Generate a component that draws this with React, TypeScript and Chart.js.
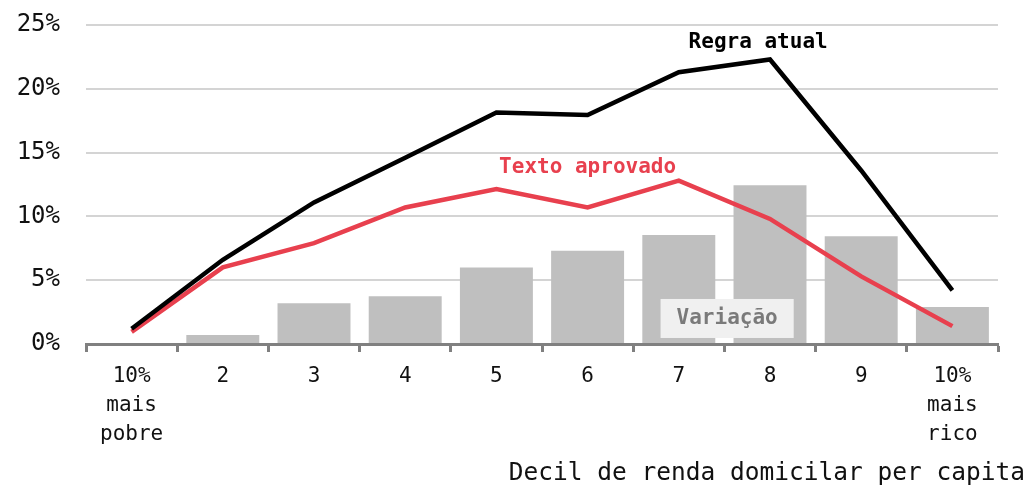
import React, { useEffect, useRef } from "react";
import { Chart, registerables } from "chart.js";

Chart.register(...registerables);

const categories: (string | string[])[] = [
  ["10%", "mais", "pobre"], "2", "3", "4", "5", "6", "7", "8", "9", ["10%", "mais", "rico"],
];
const regraAtual = [1.2, 6.6, 11.1, 14.6, 18.15, 17.95, 21.3, 22.3, 13.6, 4.2];
const textoAprovado = [0.95, 6.0, 7.9, 10.7, 12.15, 10.7, 12.8, 9.8, 5.3, 1.4];
const variacao = [0, 0.7, 3.2, 3.75, 6.0, 7.3, 8.55, 12.45, 8.45, 2.9];
const yTicks = [0, 5, 10, 15, 20, 25];

const axisTitle = "Decil de renda domicilar per capita";
// annotation labels: text, category index position, value
const labelRegra = { text: "Regra atual", x: 6.87, y: 23.6 };
const labelTexto = { text: "Texto aprovado", x: 5.0, y: 13.8 };
const labelVariacao = { text: "Variação", x: 6.53, y: 2.0 };

const FONT = "'DejaVu Sans Mono', 'Liberation Mono', monospace";
const RED = "#e8404e";

const annotationPlugin = {
  id: "annotations",
  afterDatasetsDraw(chart: any) {
    const { ctx, scales } = chart;
    const xs = scales.x;
    const ys = scales.y;
    const px = (v: number) => xs.left + (v + 0.5) * (xs.width / categories.length);
    ctx.save();
    ctx.textBaseline = "middle";
    ctx.textAlign = "center";
    ctx.font = `bold 21px ${FONT}`;
    ctx.fillStyle = "#000";
    ctx.fillText(labelRegra.text, px(labelRegra.x), ys.getPixelForValue(labelRegra.y));
    ctx.fillStyle = RED;
    ctx.fillText(labelTexto.text, px(labelTexto.x), ys.getPixelForValue(labelTexto.y));
    const vx = px(labelVariacao.x);
    const vy = ys.getPixelForValue(labelVariacao.y);
    const w = ctx.measureText(labelVariacao.text).width + 32;
    ctx.fillStyle = "#f0f0f0";
    ctx.fillRect(vx - w / 2, vy - 19.5, w, 39);
    ctx.fillStyle = "#7a7a7a";
    ctx.fillText(labelVariacao.text, vx, vy);
    ctx.restore();
  },
  afterDraw(chart: any) {
    const { ctx } = chart;
    ctx.save();
    ctx.font = `24.5px ${FONT}`;
    ctx.fillStyle = "#111";
    ctx.textAlign = "right";
    ctx.textBaseline = "middle";
    ctx.fillText(axisTitle, chart.width - 6, 474);
    ctx.restore();
  },
};

export default function App() {
  const ref = useRef<HTMLCanvasElement>(null);
  useEffect(() => {
    document.body.style.margin = "0";
    const chart = new Chart(ref.current!, {
      type: "bar",
      data: {
        labels: categories as any,
        datasets: [
          {
            type: "line",
            label: "Regra atual",
            data: regraAtual,
            borderColor: "#000",
            borderWidth: 4.5,
            pointRadius: 0,
            tension: 0,
            order: 1,
          } as any,
          {
            type: "line",
            label: "Texto aprovado",
            data: textoAprovado,
            borderColor: RED,
            borderWidth: 4.5,
            pointRadius: 0,
            tension: 0,
            order: 2,
          } as any,
          {
            type: "bar",
            label: "Variação",
            data: variacao,
            backgroundColor: "#bfbfbf",
            barPercentage: 0.8,
            categoryPercentage: 1,
            order: 3,
          },
        ],
      },
      options: {
        responsive: false,
        animation: false,
        layout: { padding: { left: 0, right: 33, top: 25, bottom: 0 } },
        plugins: { legend: { display: false }, tooltip: { enabled: false } },
        scales: {
          x: {
            offset: true,
            grid: {
              offset: true,
              drawOnChartArea: false,
              drawTicks: true,
              tickLength: 8,
              tickWidth: 3,
              tickColor: "#808080",
            },
            border: { display: true, color: "#808080", width: 3 },
            ticks: {
              color: "#111",
              font: { family: FONT, size: 21, lineHeight: 1.38 },
              padding: 10,
              maxRotation: 0,
              autoSkip: false,
            },
            afterFit: (s: any) => {
              s.height = 143;
            },
          },
          y: {
            min: 0,
            max: 25,
            afterBuildTicks: (s: any) => {
              s.ticks = yTicks.map((v) => ({ value: v }));
            },
            grid: { color: "#d4d4d4", lineWidth: 2, drawTicks: false },
            border: { display: false },
            ticks: {
              color: "#111",
              font: { family: FONT, size: 24 },
              padding: 26,
              callback: (v: any) => `${v}%`,
            },
            afterFit: (s: any) => {
              s.width = 86;
              s.paddingTop = 0;
              s.paddingBottom = 0;
            },
          },
        },
      },
      plugins: [annotationPlugin],
    });
    return () => chart.destroy();
  }, []);
  return (
    <div style={{ position: "absolute", left: 0, top: 0, width: 1031, height: 487 }}>
      <canvas ref={ref} width={1031} height={487} />
    </div>
  );
}
